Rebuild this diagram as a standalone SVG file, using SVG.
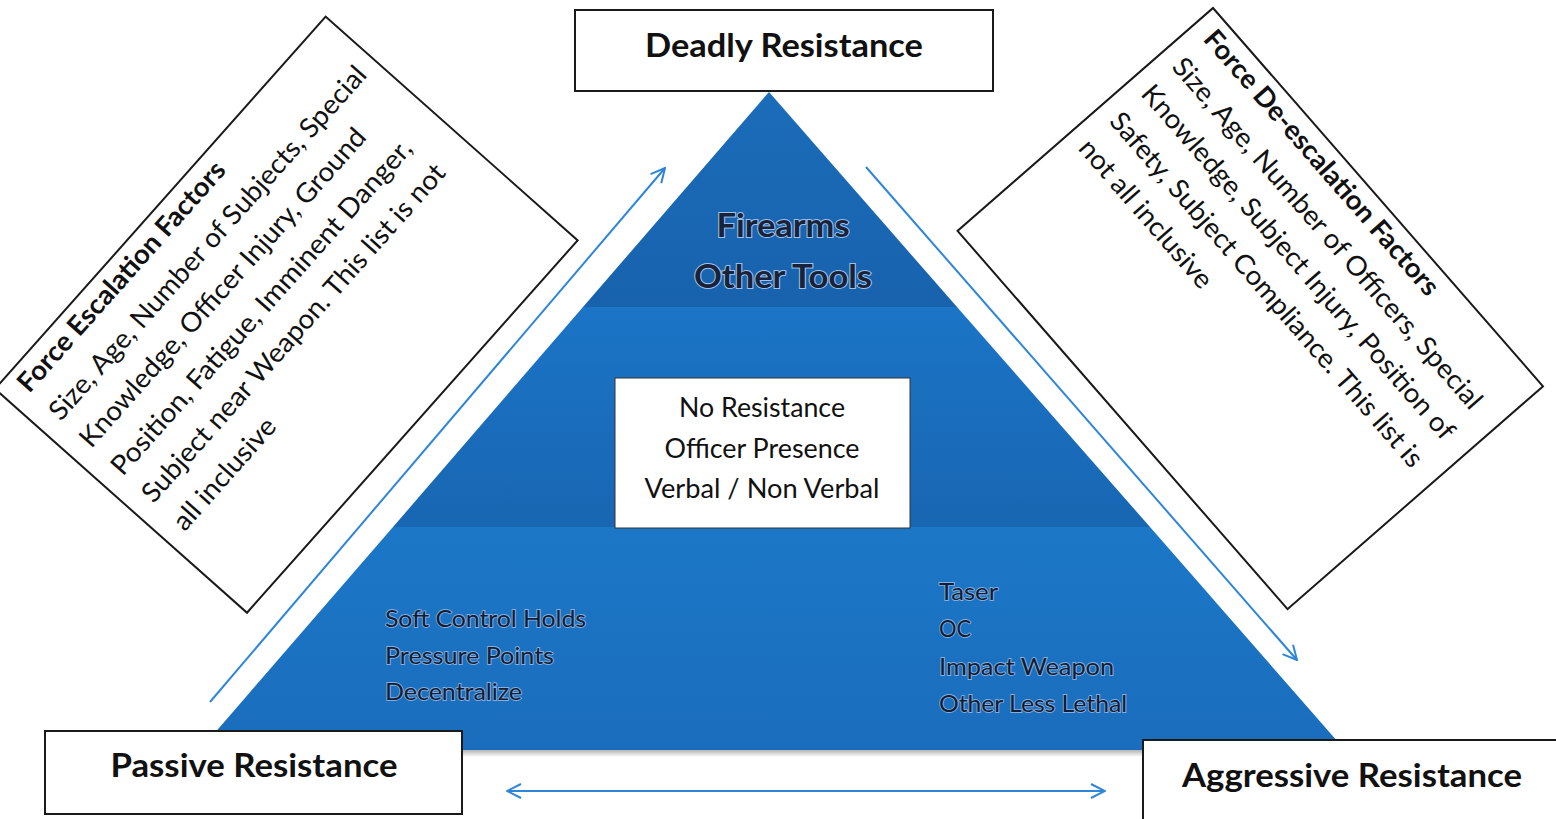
<svg xmlns="http://www.w3.org/2000/svg" width="1556" height="819" viewBox="0 0 1556 819">
  <defs>
    <style>
      .box { fill: #ffffff; stroke: #1a1a1a; stroke-width: 2; }
      .lbl { font-family: Lato, "Liberation Sans", sans-serif; font-weight: 700; font-size: 32px; fill: #111; text-anchor: middle; }
      .fh { font-family: Lato, "Liberation Sans", sans-serif; font-weight: 700; font-size: 27px; fill: #111; }
      .ft { font-family: Lato, "Liberation Sans", sans-serif; font-weight: 400; font-size: 27px; fill: #111; }
      .ct { font-family: Lato, "Liberation Sans", sans-serif; font-weight: 400; font-size: 26px; fill: #111; text-anchor: middle; }
      .pt { font-family: Lato, "Liberation Sans", sans-serif; font-weight: 700; font-size: 32px; fill: #18233a; text-anchor: middle; stroke: #9fc0e8; stroke-width: 2; paint-order: stroke fill; }
      .tt { font-family: Lato, "Liberation Sans", sans-serif; font-weight: 400; font-size: 24px; fill: #121c33; stroke: #86aede; stroke-width: 1.8; paint-order: stroke fill; }
      .arr { fill: none; stroke: #2f86d8; stroke-width: 2; }
    </style>
    <marker id="head" viewBox="0 0 16 16" refX="15" refY="8" markerWidth="16" markerHeight="16" markerUnits="userSpaceOnUse" orient="auto-start-reverse">
      <path d="M1,1 L15,8 L1,15" fill="none" stroke="#2f86d8" stroke-width="2"/>
    </marker>
    <linearGradient id="gTop" x1="0" y1="0" x2="0" y2="1">
      <stop offset="0" stop-color="#1b6cb9"/>
      <stop offset="1" stop-color="#1862ad"/>
    </linearGradient>
    <linearGradient id="gMid" x1="0" y1="0" x2="0" y2="1">
      <stop offset="0" stop-color="#1b74c6"/>
      <stop offset="1" stop-color="#1866b2"/>
    </linearGradient>
    <linearGradient id="gBot" x1="0" y1="0" x2="0" y2="1">
      <stop offset="0" stop-color="#1c77c7"/>
      <stop offset="1" stop-color="#1a6dbc"/>
    </linearGradient>
    <linearGradient id="gShadow" x1="0" y1="0" x2="0" y2="1">
      <stop offset="0" stop-color="#000" stop-opacity="0.3"/>
      <stop offset="1" stop-color="#000" stop-opacity="0"/>
    </linearGradient>
  </defs>

  <rect width="1556" height="819" fill="#ffffff"/>

  <g id="pyramid">
    <rect x="205" y="750" width="1140" height="7" fill="url(#gShadow)"/>
    <polygon id="tier-bottom" points="393,527 1150,527 1345,750 200,750" fill="url(#gBot)"/>
    <polygon id="tier-middle" points="583,307 957,307 1150,527 393,527" fill="url(#gMid)"/>
    <polygon id="tier-top" points="769,92 957,307 583,307" fill="url(#gTop)"/>
  </g>

  <g id="firearms-tier">
    <text class="pt" x="783" y="237" textLength="133" lengthAdjust="spacingAndGlyphs">Firearms</text>
    <text class="pt" x="783" y="288" textLength="178" lengthAdjust="spacingAndGlyphs">Other Tools</text>
  </g>

  <g id="no-resistance">
    <rect x="615" y="378" width="295" height="150" fill="#ffffff" stroke="#333" stroke-width="1"/>
    <text class="ct" x="762" y="417" textLength="166" lengthAdjust="spacingAndGlyphs">No Resistance</text>
    <text class="ct" x="762" y="458" textLength="195" lengthAdjust="spacingAndGlyphs">Officer Presence</text>
    <text class="ct" x="762" y="498" textLength="235" lengthAdjust="spacingAndGlyphs">Verbal / Non Verbal</text>
  </g>

  <g id="soft-controls">
    <text class="tt" x="385" y="627" textLength="201" lengthAdjust="spacingAndGlyphs">Soft Control Holds</text>
    <text class="tt" x="385" y="664" textLength="169" lengthAdjust="spacingAndGlyphs">Pressure Points</text>
    <text class="tt" x="385" y="700" textLength="137" lengthAdjust="spacingAndGlyphs">Decentralize</text>
  </g>

  <g id="less-lethal">
    <text class="tt" x="939" y="600" textLength="59" lengthAdjust="spacingAndGlyphs">Taser</text>
    <text class="tt" x="939" y="637" textLength="32" lengthAdjust="spacingAndGlyphs">OC</text>
    <text class="tt" x="939" y="675" textLength="175" lengthAdjust="spacingAndGlyphs">Impact Weapon</text>
    <text class="tt" x="939" y="712" textLength="188" lengthAdjust="spacingAndGlyphs">Other Less Lethal</text>
  </g>

  <g id="connectors">
    <line class="arr" x1="210" y1="702" x2="665" y2="168" marker-end="url(#head)"/>
    <line class="arr" x1="866" y1="167" x2="1297" y2="660" marker-end="url(#head)"/>
    <line class="arr" x1="507" y1="791" x2="1105" y2="791" marker-start="url(#head)" marker-end="url(#head)"/>
  </g>

  <g id="deadly-resistance">
    <rect class="box" x="575" y="10" width="418" height="81"/>
    <text class="lbl" x="784" y="57" textLength="278" lengthAdjust="spacingAndGlyphs">Deadly Resistance</text>
  </g>

  <g id="passive-resistance">
    <rect class="box" x="45" y="731" width="417" height="83"/>
    <text class="lbl" x="254" y="777" textLength="287" lengthAdjust="spacingAndGlyphs">Passive Resistance</text>
  </g>

  <g id="aggressive-resistance">
    <rect class="box" x="1143" y="740" width="420" height="90"/>
    <text class="lbl" x="1352" y="787" textLength="340" lengthAdjust="spacingAndGlyphs">Aggressive Resistance</text>
  </g>

  <g id="escalation-factors" transform="translate(-5,389) rotate(-48.4)">
    <rect class="box" x="0" y="0" width="498" height="337"/>
    <text class="fh" x="19" y="29" textLength="298" lengthAdjust="spacingAndGlyphs">Force Escalation Factors</text>
    <text class="ft" x="19" y="71" textLength="463" lengthAdjust="spacingAndGlyphs">Size, Age, Number of Subjects, Special</text>
    <text class="ft" x="19" y="112" textLength="416" lengthAdjust="spacingAndGlyphs">Knowledge, Officer Injury, Ground</text>
    <text class="ft" x="19" y="154" textLength="438" lengthAdjust="spacingAndGlyphs">Position, Fatigue, Imminent Danger,</text>
    <text class="ft" x="19" y="195" textLength="442" lengthAdjust="spacingAndGlyphs">Subject near Weapon. This list is not</text>
    <text class="ft" x="19" y="237" textLength="140" lengthAdjust="spacingAndGlyphs">all inclusive</text>
  </g>

  <g id="deescalation-factors" transform="translate(1213,8) rotate(48.9)">
    <rect class="box" x="0" y="0" width="502" height="339"/>
    <text class="fh" x="17" y="29" textLength="342" lengthAdjust="spacingAndGlyphs">Force De-escalation Factors</text>
    <text class="ft" x="17" y="71" textLength="456" lengthAdjust="spacingAndGlyphs">Size, Age, Number of Officers, Special</text>
    <text class="ft" x="17" y="112" textLength="461" lengthAdjust="spacingAndGlyphs">Knowledge, Subject Injury, Position of</text>
    <text class="ft" x="17" y="154" textLength="461" lengthAdjust="spacingAndGlyphs">Safety, Subject Compliance. This list is</text>
    <text class="ft" x="17" y="195" textLength="188" lengthAdjust="spacingAndGlyphs">not all inclusive</text>
  </g>
</svg>
